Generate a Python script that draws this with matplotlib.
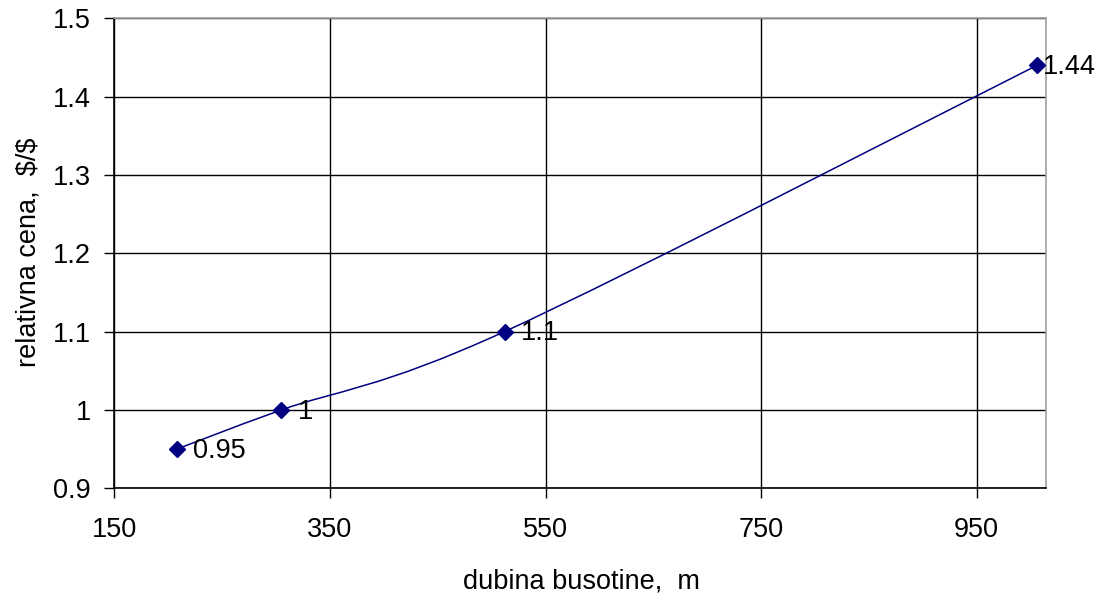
import matplotlib
matplotlib.use("Agg")
import matplotlib.pyplot as plt
from matplotlib.path import Path
from matplotlib.patches import PathPatch

plt.rcParams['font.family'] = ['Liberation Sans', 'DejaVu Sans']

# podaci
dubina = [208, 305, 512, 1006]
cena = [0.95, 1.0, 1.1, 1.44]
oznake = ['0.95', '1', '1.1', '1.44']
x_ticks = [150, 350, 550, 750, 950]
y_ticks = [0.9, 1.0, 1.1, 1.2, 1.3, 1.4, 1.5]
y_tick_labels = ['0.9', '1', '1.1', '1.2', '1.3', '1.4', '1.5']

plava = '#000080'
fs = 19.5

fig = plt.figure(figsize=(11.01, 5.94), dpi=100)
ax = fig.add_axes([0.1038, 0.178, 0.9498 - 0.1038, 0.9692 - 0.178])

# zaobljena linija (Bezier, kao Excel "smoothed line")
n = len(dubina)
verts = [(dubina[0], cena[0])]
codes = [Path.MOVETO]
for i in range(n - 1):
    p0 = (dubina[max(i - 1, 0)], cena[max(i - 1, 0)])
    p1 = (dubina[i], cena[i])
    p2 = (dubina[i + 1], cena[i + 1])
    p3 = (dubina[min(i + 2, n - 1)], cena[min(i + 2, n - 1)])
    c1 = (p1[0] + (p2[0] - p0[0]) / 6, p1[1] + (p2[1] - p0[1]) / 6)
    c2 = (p2[0] - (p3[0] - p1[0]) / 6, p2[1] - (p3[1] - p1[1]) / 6)
    verts += [c1, c2, p2]
    codes += [Path.CURVE4] * 3
ax.add_patch(PathPatch(Path(verts, codes), fill=False, edgecolor=plava, lw=1.1, zorder=3))

ax.plot(dubina, cena, linestyle='none', marker='D', markersize=8.5,
        color=plava, zorder=4, clip_on=False)

# poslednja oznaka je pomerena ulevo da stane u grafik
pomaci = [12, 12, 12, 4]
for x, y, t, dx in zip(dubina, cena, oznake, pomaci):
    ax.annotate(t, (x, y), xytext=(dx, -1.2), textcoords='offset points',
                ha='left', va='center', fontsize=fs, color='black', zorder=5)

ax.set_xlim(150, 1014)
ax.set_ylim(0.9, 1.5)
ax.set_xticks(x_ticks)
ax.set_yticks(y_ticks)
ax.set_yticklabels(y_tick_labels)
ax.grid(True, color='black', linewidth=1.0)
ax.set_axisbelow(True)

ax.tick_params(axis='both', direction='out', length=7, width=1, color='black',
               labelsize=fs)
ax.tick_params(axis='x', pad=14)
ax.tick_params(axis='y', pad=10)

for s in ['left', 'bottom']:
    ax.spines[s].set_color('black')
    ax.spines[s].set_linewidth(1.2)
for s in ['top', 'right']:
    ax.spines[s].set_color('#a0a0a0')
    ax.spines[s].set_linewidth(1.2)

ax.set_xlabel('dubina busotine,  m', fontsize=fs)
ax.xaxis.set_label_coords(581 / 1101, 1 - 588 / 594, transform=fig.transFigure)
ax.xaxis.label.set_verticalalignment('baseline')

ax.set_ylabel(r'relativna cena,  \$/\$', fontsize=fs)
ax.yaxis.set_label_coords(42 / 1101, 1 - 252.5 / 594, transform=fig.transFigure)

fig.savefig('out.png', dpi=100)
